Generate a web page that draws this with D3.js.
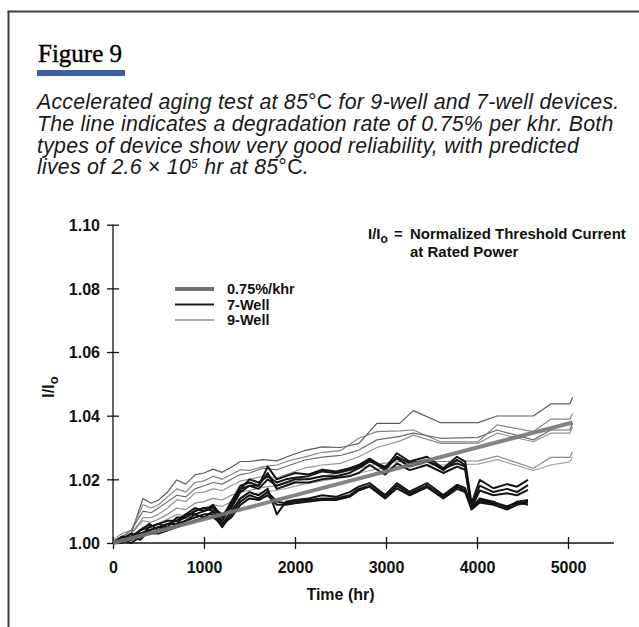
<!DOCTYPE html>
<html><head><meta charset="utf-8">
<script src="https://cdn.jsdelivr.net/npm/d3@7"></script>
<style>
html,body{margin:0;padding:0;background:#fff;}
svg{display:block;}
</style></head>
<body>
<svg id="chart" width="639" height="627"></svg>
<script>
// Accelerated aging at 85 °C: normalized threshold current I/Io versus time (hr)

// 7-well devices: readout times and I/Io per device
const timesSeven = [0, 100, 200, 300, 400, 500, 600, 700, 800, 900, 1000, 1100, 1200, 1300, 1400, 1500, 1600, 1700, 1800, 1900, 2000, 2150, 2300, 2450, 2600, 2700, 2820, 2990, 3120, 3260, 3450, 3630, 3780, 3870, 3940, 4030, 4180, 4330, 4440, 4560];
const sevenWell = [
  [1.000, 1.002, 1.001, 1.004, 1.006, 1.004, 1.006, 1.007, 1.009, 1.011, 1.010, 1.012, 1.008, 1.013, 1.018, 1.019, 1.018, 1.024, 1.020, 1.021, 1.022, 1.0215, 1.023, 1.0225, 1.0235, 1.0245, 1.0265, 1.0235, 1.0282, 1.0256, 1.0271, 1.0235, 1.0271, 1.0256, 1.0125, 1.0198, 1.0172, 1.0185, 1.0177, 1.0198],
  [1.000, 1.001, 1.003, 1.002, 1.005, 1.006, 1.005, 1.008, 1.008, 1.010, 1.011, 1.010, 1.007, 1.012, 1.017, 1.020, 1.019, 1.021, 1.019, 1.020, 1.0205, 1.021, 1.0225, 1.022, 1.023, 1.0240, 1.0261, 1.0229, 1.0271, 1.0250, 1.0261, 1.0229, 1.0261, 1.0245, 1.0115, 1.0180, 1.0160, 1.0170, 1.0160, 1.0182],
  [1.000, 1.001, 1.002, 1.003, 1.004, 1.005, 1.006, 1.006, 1.009, 1.009, 1.010, 1.011, 1.009, 1.011, 1.016, 1.018, 1.017, 1.020, 1.018, 1.019, 1.020, 1.020, 1.021, 1.021, 1.022, 1.0235, 1.0256, 1.0240, 1.0265, 1.0240, 1.0256, 1.0235, 1.0250, 1.0240, 1.0110, 1.0165, 1.0150, 1.0156, 1.0150, 1.0167],
  [1.000, 1.000, 1.002, 1.001, 1.004, 1.005, 1.004, 1.006, 1.007, 1.009, 1.008, 1.010, 1.006, 1.010, 1.014, 1.016, 1.015, 1.017, 1.009, 1.013, 1.0135, 1.014, 1.015, 1.0145, 1.016, 1.0177, 1.0188, 1.0151, 1.0188, 1.0161, 1.0188, 1.0151, 1.0183, 1.0172, 1.0109, 1.0140, 1.0130, 1.0109, 1.0130, 1.0135],
  [1.000, 1.001, 1.001, 1.003, 1.003, 1.004, 1.005, 1.005, 1.007, 1.008, 1.009, 1.009, 1.005, 1.009, 1.013, 1.015, 1.014, 1.016, 1.013, 1.0125, 1.013, 1.0135, 1.014, 1.014, 1.015, 1.0170, 1.0180, 1.0145, 1.0180, 1.0155, 1.0180, 1.0145, 1.0177, 1.0165, 1.0114, 1.0130, 1.0125, 1.0114, 1.0125, 1.0130],
  [1.000, 1.001, 1.000, 1.002, 1.003, 1.003, 1.004, 1.005, 1.006, 1.007, 1.008, 1.008, 1.006, 1.008, 1.012, 1.014, 1.0135, 1.015, 1.012, 1.012, 1.0125, 1.013, 1.0135, 1.0135, 1.0145, 1.0165, 1.0177, 1.0140, 1.0172, 1.0150, 1.0175, 1.0140, 1.0170, 1.0160, 1.0105, 1.0127, 1.0120, 1.0105, 1.0120, 1.0127],
  [1.000, 1.002, 1.002, 1.004, 1.005, 1.006, 1.007, 1.007, 1.008, 1.010, 1.011, 1.011, 1.008, 1.012, 1.017, 1.018, 1.018, 1.022, 1.017, 1.018, 1.019, 1.019, 1.020, 1.0205, 1.021, 1.022, 1.0245, 1.0215, 1.0250, 1.0229, 1.0245, 1.0220, 1.0240, 1.0230, 1.0108, 1.0135, 1.0128, 1.0115, 1.0128, 1.0120]
];

// 9-well devices: readout times and I/Io per device
const timesNine = [0, 50, 100, 200, 330, 420, 500, 600, 700, 800, 900, 1000, 1100, 1200, 1300, 1400, 1500, 1650, 1800, 1950, 2100, 2300, 2500, 2700, 2900, 3150, 3300, 3600, 4010, 4220, 4620, 4810, 5020, 5050];
const nineWell = [
  [1.000, 1.001, 1.002, 1.003, 1.014, 1.0125, 1.0135, 1.016, 1.0198, 1.0185, 1.0214, 1.022, 1.0232, 1.0222, 1.0238, 1.0256, 1.0256, 1.0262, 1.0258, 1.0275, 1.029, 1.0302, 1.0300, 1.0312, 1.0376, 1.0376, 1.0416, 1.0378, 1.0378, 1.0399, 1.0399, 1.0437, 1.0437, 1.0458],
  [1.000, 1.002, 1.003, 1.004, 1.012, 1.011, 1.012, 1.0145, 1.017, 1.016, 1.019, 1.0195, 1.021, 1.020, 1.0215, 1.023, 1.0228, 1.024, 1.0245, 1.026, 1.027, 1.0285, 1.029, 1.0329, 1.0350, 1.0352, 1.0355, 1.0318, 1.0318, 1.0371, 1.0350, 1.0389, 1.0389, 1.0407],
  [1.000, 1.001, 1.002, 1.004, 1.010, 1.0095, 1.011, 1.013, 1.015, 1.0145, 1.017, 1.018, 1.019, 1.0185, 1.020, 1.0215, 1.022, 1.0235, 1.023, 1.0245, 1.026, 1.027, 1.0275, 1.0292, 1.0324, 1.0335, 1.0345, 1.0329, 1.0332, 1.0355, 1.0324, 1.0355, 1.0355, 1.0376],
  [1.000, 1.001, 1.002, 1.003, 1.008, 1.008, 1.009, 1.011, 1.0136, 1.013, 1.0157, 1.016, 1.017, 1.0165, 1.018, 1.0195, 1.020, 1.021, 1.0205, 1.022, 1.0235, 1.0245, 1.025, 1.0271, 1.030, 1.032, 1.0339, 1.0313, 1.0313, 1.0345, 1.0318, 1.0345, 1.0345, 1.0366],
  [1.000, 1.001, 1.002, 1.003, 1.007, 1.0065, 1.0075, 1.009, 1.011, 1.0105, 1.0125, 1.013, 1.014, 1.0135, 1.015, 1.016, 1.0165, 1.0175, 1.018, 1.019, 1.020, 1.021, 1.022, 1.0235, 1.0248, 1.0256, 1.0256, 1.0256, 1.0258, 1.0273, 1.0235, 1.0269, 1.0269, 1.0287],
  [1.000, 1.000, 1.001, 1.002, 1.005, 1.005, 1.006, 1.0075, 1.009, 1.0085, 1.0105, 1.011, 1.012, 1.0115, 1.013, 1.014, 1.015, 1.016, 1.0165, 1.0175, 1.0185, 1.0195, 1.0205, 1.022, 1.0232, 1.0242, 1.0245, 1.0245, 1.0248, 1.0262, 1.0228, 1.0245, 1.0255, 1.0271]
];
const nineWellShades = ["#5a5a5a", "#858585", "#6c6c6c", "#939393", "#8c8c8c", "#a2a2a2"];

// degradation line, 0.75% per khr
const fitRate = 0.0075;
const fitTimes = [0, 5050];
const fitValues = fitTimes.map(t => 1 + fitRate * t / 1000);

const xTicks = [0, 1000, 2000, 3000, 4000, 5000];
const yTicks = [1.00, 1.02, 1.04, 1.06, 1.08, 1.10];
const xAxisEnd = 5505;
const legendLabels = ["0.75%/khr", "7-Well", "9-Well"];

const SANS = "'Liberation Sans', Arial, Helvetica, sans-serif";
const SERIF = "'Liberation Serif', 'Times New Roman', serif";

const svg = d3.select("#chart");

// frame
svg.append("line").attr("x1", 8.5).attr("x2", 8.5).attr("y1", 11).attr("y2", 627)
  .attr("stroke", "#3c3c3c").attr("stroke-width", 2);
svg.append("line").attr("x1", 7.5).attr("x2", 639).attr("y1", 11.5).attr("y2", 11.5)
  .attr("stroke", "#3c3c3c").attr("stroke-width", 2);

// heading
svg.append("text").attr("x", 38).attr("y", 62)
  .attr("font-family", SERIF).attr("font-size", 25).attr("fill", "#000")
  .attr("stroke", "#000").attr("stroke-width", 0.4)
  .text("Figure 9");
svg.append("rect").attr("x", 37).attr("y", 70).attr("width", 88).attr("height", 6)
  .attr("fill", "#3c5ea8");

// caption (italic, with upright symbols)
const captionLines = [
  [["Accelerated aging test at 85", "i"], ["°C", "n"], [" for 9-well and 7-well devices.", "i"]],
  [["The line indicates a degradation rate of 0.75% per khr. Both", "i"]],
  [["types of device show very good reliability, with predicted", "i"]],
  [["lives of 2.6 ", "i"], ["×", "n"], [" 10", "i"], ["5", "sup"], [" hr at 85", "i"], ["°C", "n"], [".", "i"]]
];
const capSize = 21.3;
const cap = svg.append("g").attr("font-family", SANS).attr("fill", "#1a1a1a")
  .attr("letter-spacing", 0.25);
captionLines.forEach((parts, i) => {
  const t = cap.append("text").attr("x", 37).attr("y", 109 + i * 21.8).attr("font-size", capSize);
  parts.forEach(([s, kind], k) => {
    const ts = t.append("tspan").text(s)
      .attr("font-style", kind === "n" ? "normal" : "italic");
    if (kind === "sup") ts.attr("font-size", 12).attr("dy", -6);
    else if (k > 0 && parts[k - 1][1] === "sup") ts.attr("dy", 6);
  });
});

// scales
const x = d3.scaleLinear().domain([0, 5000]).range([113, 568]);
const y = d3.scaleLinear().domain([1.00, 1.10]).range([543, 224.7]);

// axes
const axisG = svg.append("g").attr("stroke", "#111").attr("stroke-width", 1.3);
axisG.append("line").attr("x1", x(0)).attr("x2", x(0)).attr("y1", y(1.00)).attr("y2", y(1.10));
axisG.append("line").attr("x1", x(0)).attr("x2", x(xAxisEnd)).attr("y1", y(1.00)).attr("y2", y(1.00));

const xAxis = svg.append("g").attr("transform", `translate(0,${y(1.00)})`)
  .call(d3.axisBottom(x).tickValues(xTicks).tickSize(6).tickFormat(d3.format("d")));
xAxis.select(".domain").remove();
xAxis.selectAll(".tick line").attr("y1", -6).attr("y2", 6).attr("stroke", "#111").attr("stroke-width", 1.3);
xAxis.selectAll(".tick text").attr("y", 19).attr("dy", "0.71em")
  .attr("font-family", SANS).attr("font-weight", "bold").attr("font-size", 16).attr("fill", "#111");

const yAxis = svg.append("g").attr("transform", `translate(${x(0)},0)`)
  .call(d3.axisLeft(y).tickValues(yTicks).tickSize(6).tickFormat(d3.format(".2f")));
yAxis.select(".domain").remove();
yAxis.selectAll(".tick line").attr("x1", -6).attr("x2", 6).attr("stroke", "#111").attr("stroke-width", 1.3);
yAxis.selectAll(".tick text").attr("x", -13).attr("dy", "0.36em")
  .attr("font-family", SANS).attr("font-weight", "bold").attr("font-size", 16).attr("fill", "#111");

// axis titles
svg.append("text").attr("x", (x(0) + x(5000)) / 2).attr("y", 600).attr("text-anchor", "middle")
  .attr("font-family", SANS).attr("font-weight", "bold").attr("font-size", 16).attr("fill", "#111")
  .text("Time (hr)");
const yt = svg.append("text").attr("transform", "translate(54,387) rotate(-90)").attr("text-anchor", "middle")
  .attr("font-family", SANS).attr("font-weight", "bold").attr("font-size", 16).attr("fill", "#111");
yt.append("tspan").text("I/I");
yt.append("tspan").text("o").attr("font-size", 13).attr("dy", 4);

// data lines
const line = d3.line().x(d => x(d[0])).y(d => y(d[1]));
const plot = svg.append("g").attr("fill", "none").attr("stroke-linejoin", "round");

nineWell.forEach((vals, i) => {
  plot.append("path").datum(timesNine.map((t, j) => [t, vals[j]]))
    .attr("d", line).attr("stroke", nineWellShades[i]).attr("stroke-width", 1.2);
});
sevenWell.forEach(vals => {
  plot.append("path").datum(timesSeven.map((t, j) => [t, vals[j]]))
    .attr("d", line).attr("stroke", "#141414").attr("stroke-width", 2);
});
plot.append("path").datum(fitTimes.map((t, j) => [t, fitValues[j]]))
  .attr("d", line).attr("stroke", "#777").attr("stroke-width", 4).attr("stroke-opacity", 0.9);

// legend
const legendStyles = [
  { stroke: "#707070", width: 4 },
  { stroke: "#1a1a1a", width: 2 },
  { stroke: "#555", width: 1 }
];
const lg = svg.append("g").attr("transform", "translate(175,289)");
legendLabels.forEach((lab, i) => {
  const row = lg.append("g").attr("transform", `translate(0,${i * 15.5})`);
  row.append("line").attr("x1", 0).attr("x2", 39).attr("y1", 0).attr("y2", 0)
    .attr("stroke", legendStyles[i].stroke).attr("stroke-width", legendStyles[i].width);
  row.append("text").attr("x", 52).attr("dy", "0.36em")
    .attr("font-family", SANS).attr("font-weight", "bold").attr("font-size", 14.5).attr("fill", "#111")
    .text(lab);
});

// definition note
const note = svg.append("g").attr("font-family", SANS).attr("font-weight", "bold").attr("font-size", 15).attr("fill", "#111");
const n1 = note.append("text").attr("x", 368).attr("y", 239);
n1.append("tspan").text("I/I");
n1.append("tspan").text("o").attr("font-size", 12).attr("dy", 4);
n1.append("tspan").text("=").attr("dy", -4).attr("x", 394);
note.append("text").attr("x", 410).attr("y", 239).text("Normalized Threshold Current");
note.append("text").attr("x", 410).attr("y", 257).text("at Rated Power");
</script>
</body></html>
